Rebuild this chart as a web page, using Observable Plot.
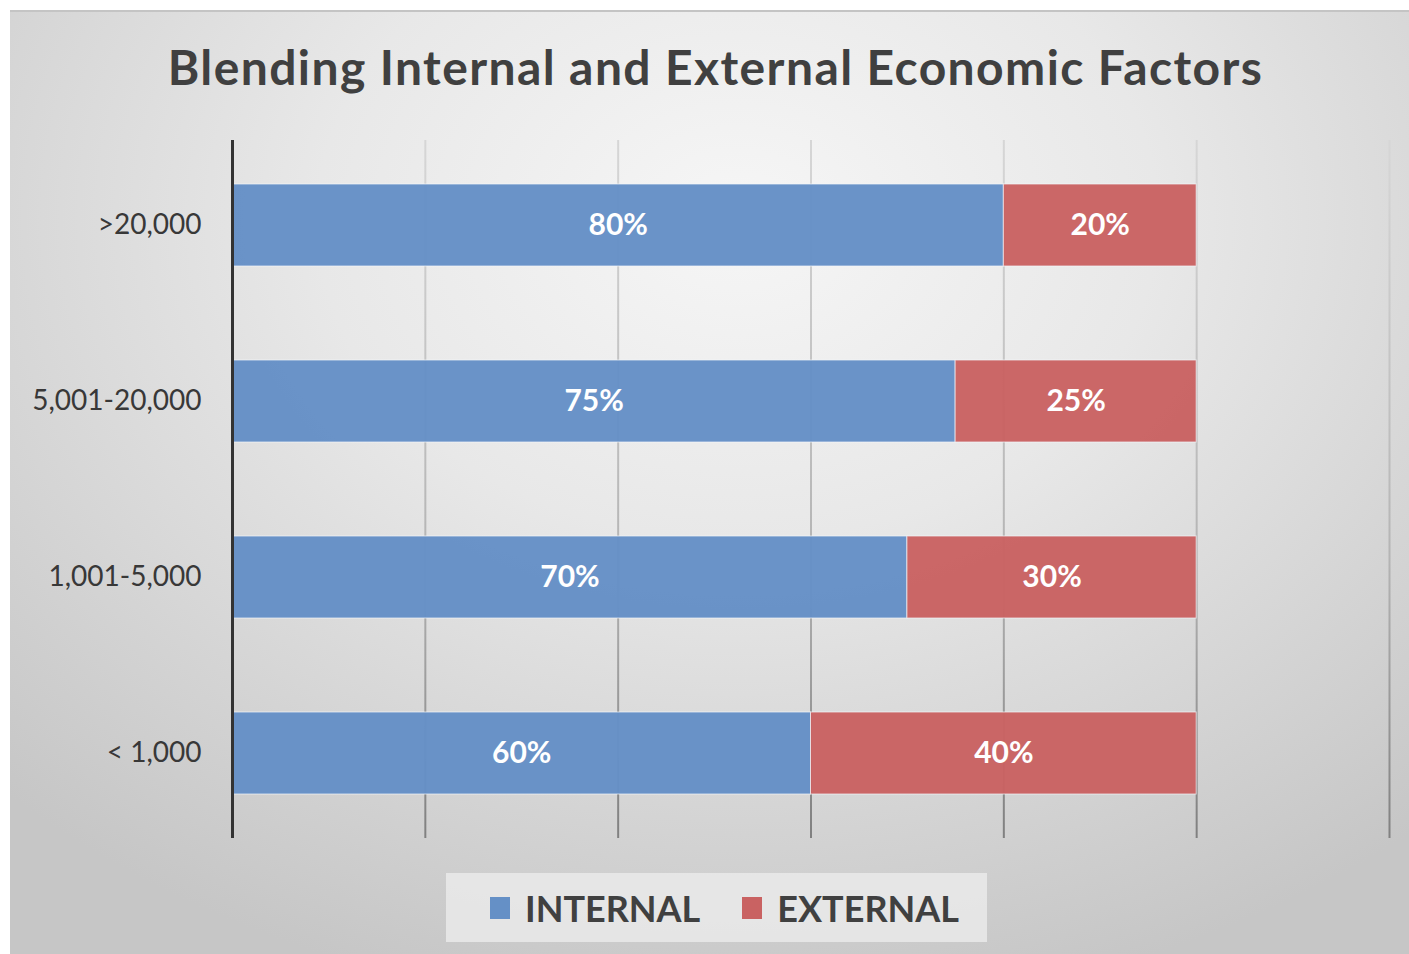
<!DOCTYPE html>
<html>
<head>
<meta charset="utf-8">
<script src="https://cdn.jsdelivr.net/npm/d3@7"></script>
<script src="https://cdn.jsdelivr.net/npm/@observablehq/plot@0.6"></script>
<style>
  html, body { margin: 0; padding: 0; background: #fff; }
  #frame {
    position: absolute; left: 10px; top: 10px; width: 1399px; height: 944px;
    background: radial-gradient(ellipse 75% 85% at 52% 22%, #f6f6f6 0%, #e8e8e8 40%, #d4d4d4 75%, #c6c6c6 100%);
    border-top: 2px solid #c4c4c4;
    box-sizing: border-box;
    font-family: Lato, "Open Sans", sans-serif;
  }
  #title {
    position: absolute; left: 6px; width: 1399px; top: 26px; text-align: center;
    font-size: 48px; font-weight: 700; color: #404040; letter-spacing: 1.4px;
  }
  #chart { position: absolute; left: 0; top: 116px; }
  #legend {
    position: absolute; left: 436px; top: 861px; width: 541px; height: 69px;
    box-sizing: border-box; padding-left: 16px;
    background: rgba(238,238,238,0.75);
    display: flex; align-items: center; justify-content: center; gap: 42px;
    font-size: 36px; font-weight: 700; color: #404040;
  }
  .item { display: flex; align-items: center; gap: 15px; }
  .sw { width: 20px; height: 22px; display: inline-block; }
</style>
</head>
<body>
<div id="frame">
  <div id="title">Blending Internal and External Economic Factors</div>
  <div id="chart"></div>
  <div id="legend"></div>
</div>
<script>
const categories = [">20,000", "5,001-20,000", "1,001-5,000", "< 1,000"];
const internalValues = [80, 75, 70, 60];
const externalValues = [20, 25, 30, 40];
const seriesNames = ["INTERNAL", "EXTERNAL"];
const seriesColors = ["#6590c6", "#c96262"];
const xTicks = [20, 40, 60, 80, 100, 120];

const rows = [];
categories.forEach((c, i) => {
  rows.push({cat: c, type: seriesNames[0], value: internalValues[i]});
  rows.push({cat: c, type: seriesNames[1], value: externalValues[i]});
});

const W = 1399, H = 720, mT = 12, mB = 10, mL = 222, mR = 20;

const plot = Plot.plot({
  width: W, height: H,
  marginLeft: mL, marginRight: mR, marginTop: mT, marginBottom: mB,
  style: {background: "transparent", fontFamily: "Lato, 'Open Sans', sans-serif", overflow: "visible"},
  x: {domain: [0, 120], axis: null},
  y: {domain: categories, paddingInner: 0.535, paddingOuter: 0.25, axis: null},
  color: {domain: seriesNames, range: seriesColors},
  marks: [
    Plot.ruleX(xTicks, {stroke: "url(#gridGrad)", strokeWidth: 2}),
    Plot.barX(rows, {x: "value", y: "cat", fill: "type", fillOpacity: 0.97, stroke: "#f4f7fb", strokeOpacity: 0.7, strokeWidth: 1}),
    Plot.text(rows, Plot.stackX({x: "value", y: "cat", text: d => d.value + "%", fill: "white", fontSize: 30, fontWeight: 700})),
    Plot.ruleX([0], {stroke: "#333", strokeWidth: 3}),
    Plot.axisY({tickSize: 0, tickPadding: 31, fontSize: 28, fill: "#383838", color: "#383838", label: null})
  ]
});

const svg = d3.select(plot);
const defs = svg.insert("defs", ":first-child");
const g = defs.append("linearGradient").attr("id", "gridGrad")
  .attr("gradientUnits", "userSpaceOnUse")
  .attr("x1", 0).attr("x2", 0).attr("y1", mT).attr("y2", H - mB);
g.append("stop").attr("offset", "0%").attr("stop-color", "#d6d6d6");
g.append("stop").attr("offset", "60%").attr("stop-color", "#b4b4b4");
g.append("stop").attr("offset", "100%").attr("stop-color", "#808080");

document.getElementById("chart").appendChild(plot);

const legend = document.getElementById("legend");
seriesNames.forEach((n, i) => {
  const it = document.createElement("div");
  it.className = "item";
  const sw = document.createElement("span");
  sw.className = "sw"; sw.style.background = seriesColors[i];
  const t = document.createElement("span");
  t.textContent = n;
  it.appendChild(sw); it.appendChild(t);
  legend.appendChild(it);
});
</script>
</body>
</html>
